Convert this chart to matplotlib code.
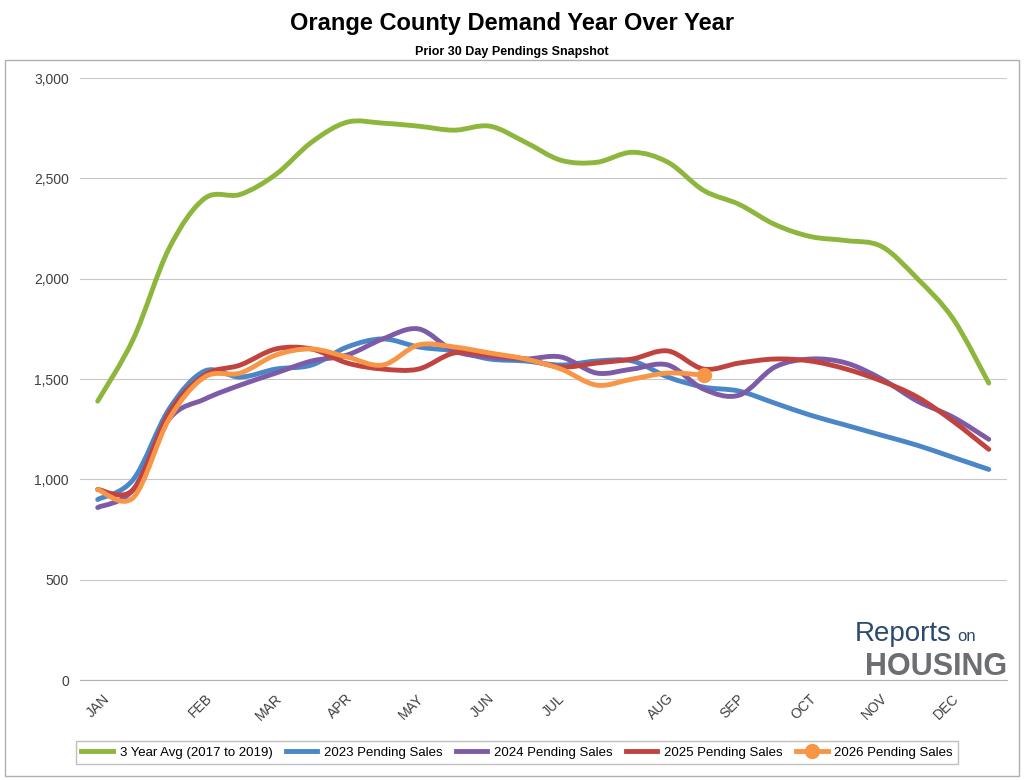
import numpy as np
import matplotlib.pyplot as plt
from matplotlib.path import Path
from matplotlib.patches import PathPatch, Rectangle
from matplotlib.lines import Line2D

MONTHS = ["JAN", "FEB", "MAR", "APR", "MAY", "JUN", "JUL", "AUG", "SEP", "OCT", "NOV", "DEC"]
MONTH_POS = [0, 2.9, 4.8, 6.8, 8.8, 10.8, 12.8, 15.8, 17.8, 19.8, 21.8, 23.8]

avg_3yr = [1390, 1700, 2150, 2400, 2420, 2520, 2680, 2780, 2775, 2760, 2740, 2760, 2680,
           2590, 2580, 2630, 2580, 2440, 2370, 2270, 2210, 2190, 2160, 2000, 1800, 1480]
sales_2023 = [900, 1000, 1350, 1540, 1510, 1550, 1570, 1660, 1700, 1660, 1640, 1600, 1590,
              1570, 1590, 1590, 1510, 1460, 1440, 1380, 1320, 1270, 1220, 1170, 1110, 1050]
sales_2024 = [860, 950, 1300, 1400, 1470, 1530, 1590, 1620, 1700, 1750, 1640, 1610, 1600,
              1610, 1530, 1550, 1570, 1450, 1420, 1560, 1600, 1580, 1500, 1390, 1310, 1200]
sales_2025 = [950, 950, 1330, 1520, 1570, 1650, 1650, 1580, 1550, 1550, 1630, 1620, 1600,
              1560, 1580, 1600, 1640, 1550, 1580, 1600, 1590, 1550, 1490, 1410, 1290, 1150]
sales_2026 = [950, 910, 1300, 1510, 1530, 1620, 1650, 1610, 1570, 1670, 1660, 1630, 1600,
              1550, 1470, 1500, 1530, 1520]

SERIES = [
    ("3 Year Avg (2017 to 2019)", avg_3yr, "#8DB63C"),
    ("2023 Pending Sales", sales_2023, "#4A86C8"),
    ("2024 Pending Sales", sales_2024, "#7D5BA6"),
    ("2025 Pending Sales", sales_2025, "#C0433F"),
    ("2026 Pending Sales", sales_2026, "#F79646"),
]


def smooth_path(x, y, t=1 / 6):
    # Catmull-Rom through the points, drawn as cubic Bezier segments
    x, y = np.asarray(x, float), np.asarray(y, float)
    verts, codes = [(x[0], y[0])], [Path.MOVETO]
    n = len(x)
    for i in range(n - 1):
        i0, i3 = max(i - 1, 0), min(i + 2, n - 1)
        c1 = (x[i] + (x[i + 1] - x[i0]) * t, y[i] + (y[i + 1] - y[i0]) * t)
        c2 = (x[i + 1] - (x[i3] - x[i]) * t, y[i + 1] - (y[i3] - y[i]) * t)
        verts += [c1, c2, (x[i + 1], y[i + 1])]
        codes += [Path.CURVE4] * 3
    return Path(verts, codes)


plt.rcParams["font.family"] = ["Liberation Sans", "DejaVu Sans"]
fig = plt.figure(figsize=(10.24, 7.8), dpi=100)
ax = fig.add_axes([0.078, 0.128, 0.905, 0.772])

handles = []
for label, vals, color in SERIES:
    xs = np.arange(len(vals))
    ax.add_patch(PathPatch(smooth_path(xs, vals), fill=False, edgecolor=color,
                           lw=3.5, capstyle="round", zorder=3))
    if label.startswith("2026"):
        ax.plot(xs[-1], vals[-1], "o", color=color, ms=10, zorder=4)
        handles.append(Line2D([], [], color=color, lw=3.5, marker="o", ms=10))
    else:
        handles.append(Line2D([], [], color=color, lw=3.5))

ax.set_xlim(-0.5, 25.5)
ax.set_ylim(0, 3000)
ax.set_yticks(range(0, 3001, 500))
ax.set_yticklabels([f"{v:,}" for v in range(0, 3001, 500)], fontsize=10, color="#404040")
ax.grid(axis="y", color="#C8C8C8", lw=0.8)
ax.set_xticks(MONTH_POS)
ax.set_xticklabels(MONTHS, rotation=45, fontsize=10, color="#404040")
ax.tick_params(length=0, pad=8)
for s in ["top", "right", "left"]:
    ax.spines[s].set_visible(False)
ax.spines["bottom"].set_color("#B0B0B0")

fig.text(0.5, 0.962, "Orange County Demand Year Over Year", ha="center",
         fontsize=17, fontweight="bold")
fig.text(0.5, 0.93, "Prior 30 Day Pendings Snapshot", ha="center",
         fontsize=9, fontweight="bold")

fig.legend(handles, [s[0] for s in SERIES], loc="lower center", ncol=5,
           bbox_to_anchor=(0.505, 0.012), fontsize=9.5, frameon=True,
           edgecolor="#B0B0B0", fancybox=False, handlelength=2.4,
           columnspacing=1.0, handletextpad=0.5)

fig.text(0.835, 0.178, "Reports", fontsize=20, color="#2C4A6E")
fig.text(0.935, 0.178, "on", fontsize=12, color="#2C4A6E")
fig.text(0.845, 0.135, "HOUSING", fontsize=22, fontweight="bold", color="#6D6E71")

fig.add_artist(Rectangle((0.005, 0.005), 0.99, 0.918, transform=fig.transFigure,
                         fill=False, edgecolor="#B0B0B0", lw=1))

fig.savefig("out.png", dpi=100, facecolor="white")
